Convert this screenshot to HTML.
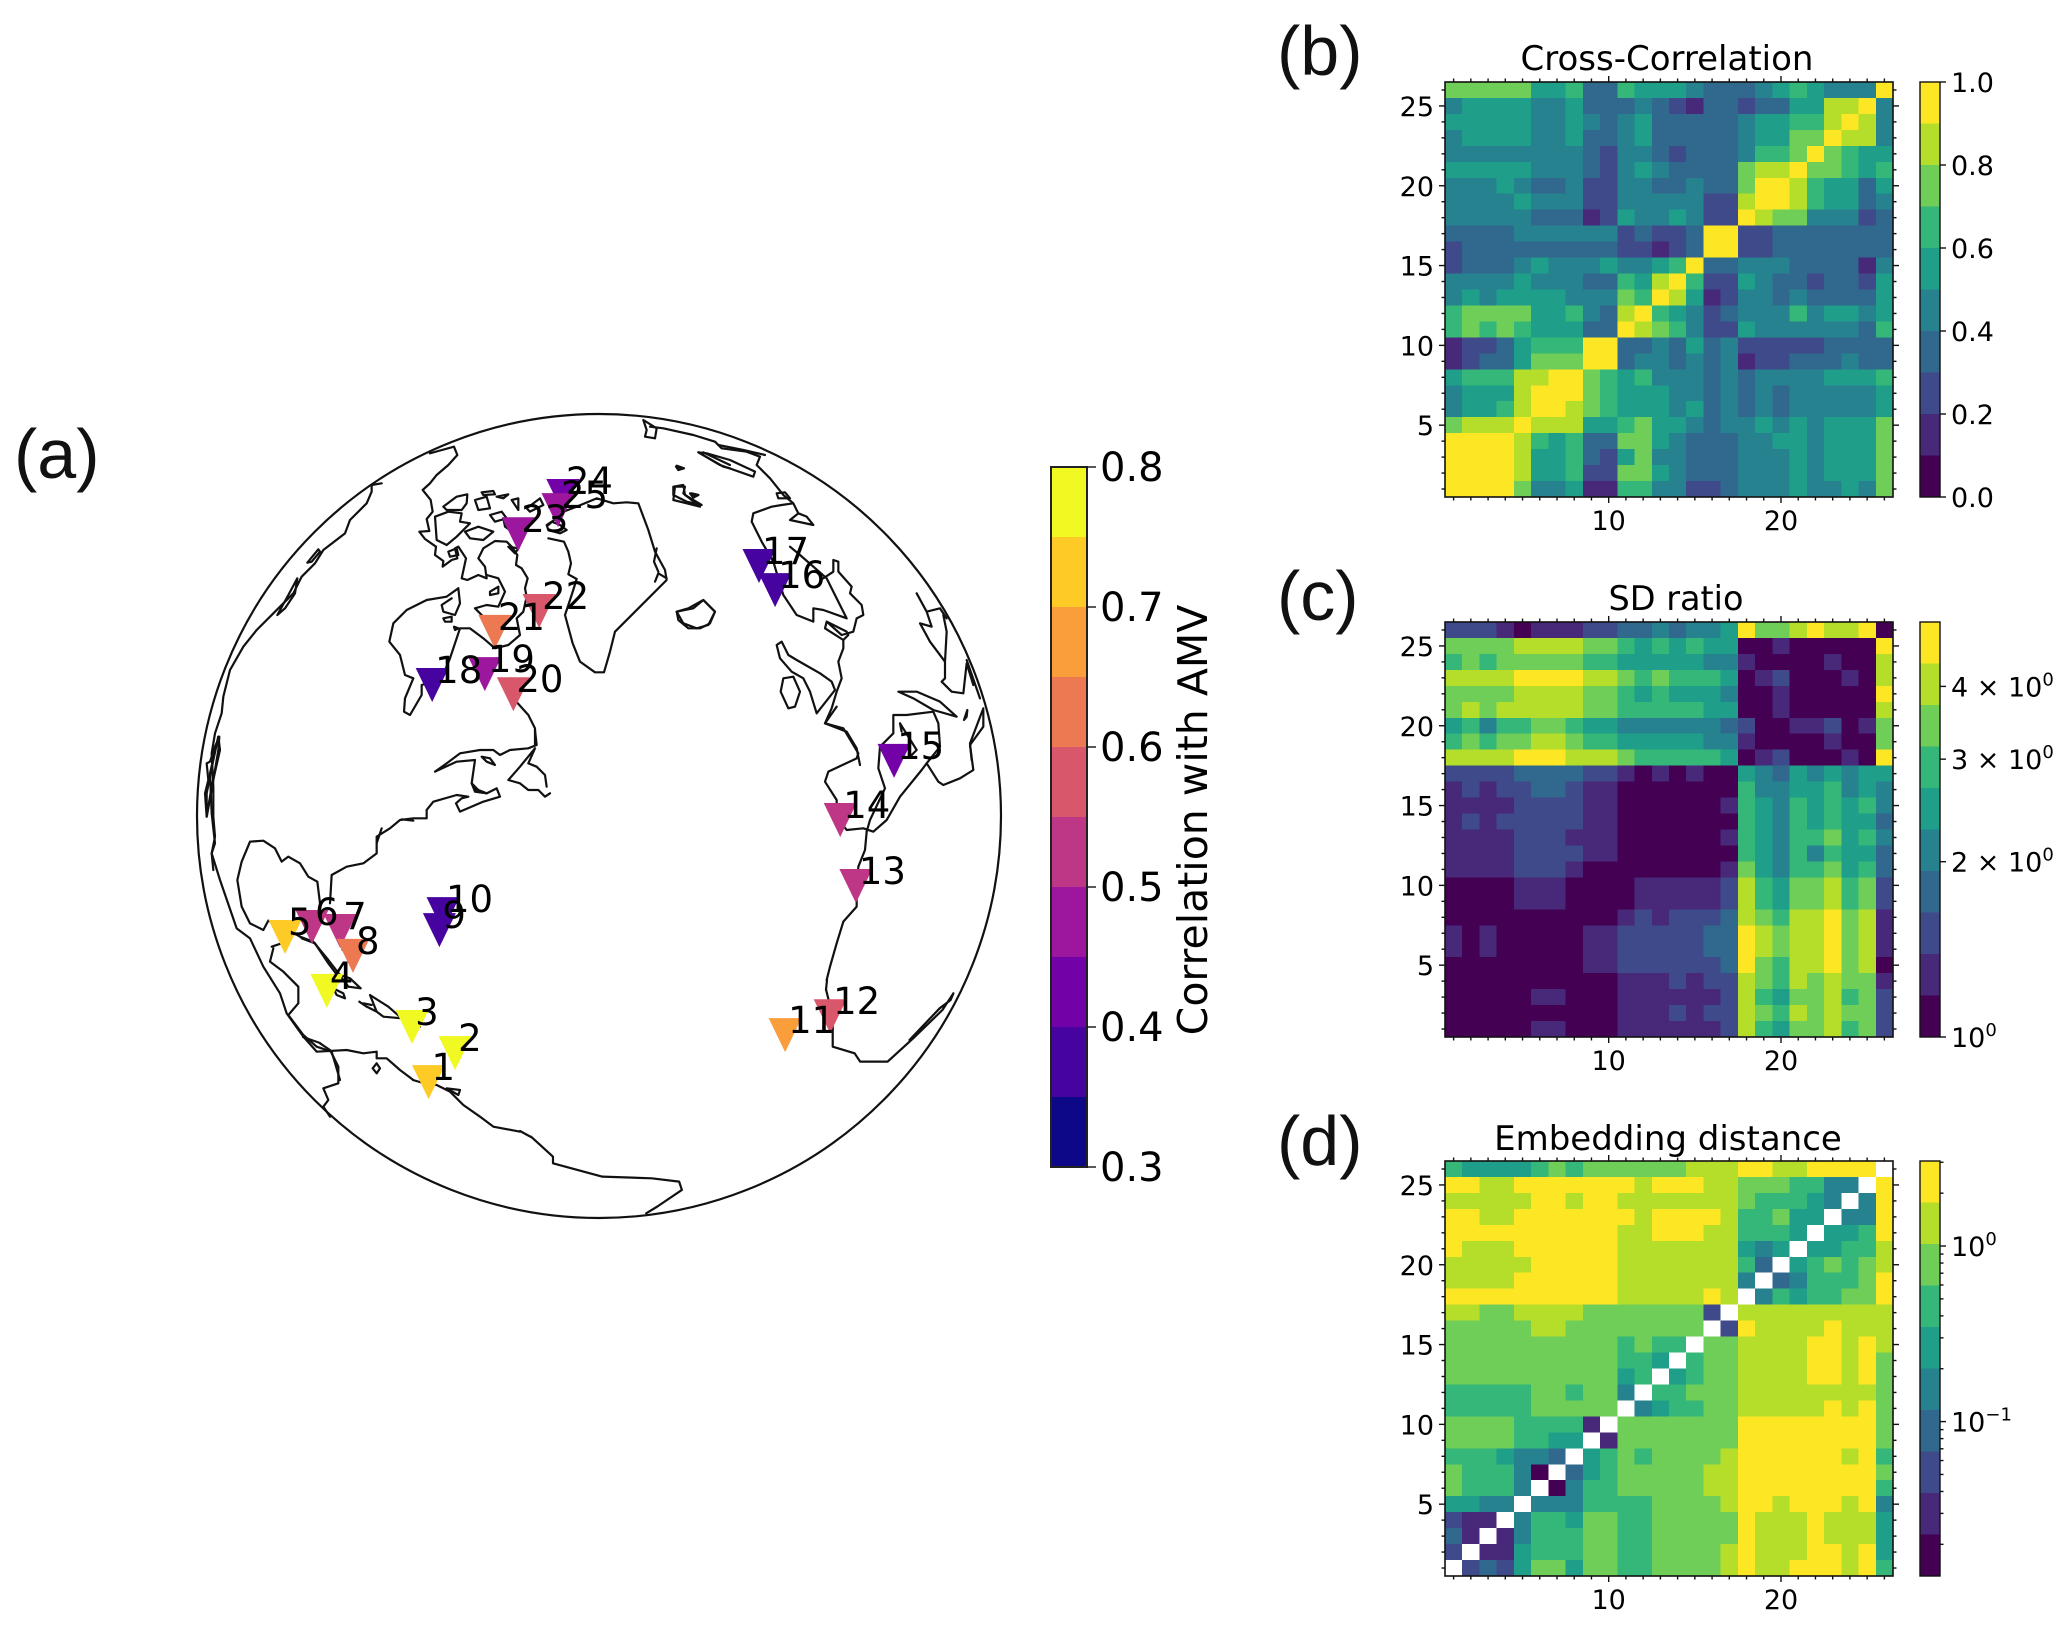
<!DOCTYPE html>
<html lang="en">
<head>
<meta charset="utf-8">
<title>AMV correlation map and station similarity matrices</title>
<style>
html,body{margin:0;padding:0;background:#fff}
svg{display:block}
text{font-family:"DejaVu Sans","Liberation Sans",sans-serif;fill:#000}
.letter{font-family:"Liberation Sans",sans-serif;font-size:70px;fill:#111}
.coast path{fill:none;stroke:#111;stroke-width:2.2;stroke-linejoin:round;stroke-linecap:round;vector-effect:non-scaling-stroke}
</style>
</head>
<body>
<svg id="figure" xmlns="http://www.w3.org/2000/svg" width="2067" height="1628" viewBox="0 0 2067 1628">
<rect width="2067" height="1628" fill="#fff"/>
<text class="letter" x="14" y="478">(a)</text>
<text class="letter" x="1277" y="75">(b)</text>
<text class="letter" x="1277" y="620">(c)</text>
<text class="letter" x="1277" y="1165">(d)</text>
<text x="1667" y="70" font-size="34" text-anchor="middle">Cross-Correlation</text>
<text x="1676" y="610" font-size="33.5" text-anchor="middle">SD ratio</text>
<text x="1668" y="1150" font-size="34" text-anchor="middle">Embedding distance</text>
<g class="coast">
<!-- Arctic Canada, Greenland, Hudson region -->
<g transform="translate(380,415) scale(0.33333)">
<path d="M150,115 L175,108 L222,95 L232,120 L205,150 L170,180 L150,205 L128,225 L152,255 L158,290 L140,312 L148,348 L118,350 L135,372 L168,395 L165,420 L190,438 L188,455 L215,435 L232,430 L225,400 L235,395 L258,430 L245,490 L262,495 L295,480 L320,490 L315,455 L295,430 L310,400 L345,378 L380,380 L395,395 L412,420 L408,450 L425,460 L443,490 L435,520 L440,545"/>
<path d="M190,275 L230,245 L262,238 L260,265 L245,285 L200,285 Z M165,305 L205,290 L245,295 L240,320 L270,325 L230,365 L200,390 L170,375 Z M305,232 L340,228 L345,238 L310,240 Z M350,245 L385,238 L370,250 Z M285,255 L320,245 L330,280 L295,285 Z M395,255 L415,250 L415,285 Z M330,300 L365,290 L380,310 L345,320 Z M440,280 L480,250 L490,270 L450,290 Z M255,350 L295,335 L340,350 L310,375 L270,370 Z M370,310 L420,320 L440,340 L410,360 L375,335 Z M500,330 L515,320 L540,330 L560,345 L540,355 L505,345 Z M205,410 L230,400 L235,420 L210,425 Z M385,395 L415,400 L405,415 Z"/>
<path d="M505,370 L552,380 L565,410 L573,445 L565,478 L590,492 L575,540 L555,600 L578,685 L600,740 L645,772 L672,772 L690,710 L705,650 L780,575 L860,495 L855,465 L825,410 L805,345 L775,265 L740,262 L700,265 L650,250 L590,275 L550,290 L505,330 M825,500 L835,475 L860,490 M830,400 L822,440 L835,470"/>
<path d="M235,520 L200,545 L140,555 L80,585 L40,625 L28,680 L60,720 L75,780 L100,790 L75,850 L72,890 L90,900 L125,840 L125,810 L185,790 L210,730 L240,640 L270,640 L310,670 L345,700 L385,690 L420,660 L410,610 L430,590 L440,545"/>
<path d="M235,520 L240,565 L225,600 L190,590 L185,570 L215,550 M285,580 L320,570 L355,575 L375,530 L355,490 L320,480 M285,580 L310,605 L345,680 M330,530 L355,515 L355,535 L330,540 Z M190,610 L215,605 L215,620 L195,620 Z M222,635 L235,640 L225,645 Z"/>
<path d="M395,790 L400,850 L445,900 L465,940 L465,990"/>
<path d="M790,15 L830,40 L825,70 L795,65 L800,45 Z M880,215 L910,210 L915,240 L965,270 L920,260 L880,240 Z M930,235 L955,240 L940,248 Z M890,152 L912,160 L895,165 Z M955,112 L1030,155 L1050,160 M970,112 L1050,150"/>
<path d="M890,590 L925,580 L970,555 L1005,590 L985,630 L950,640 L910,625 Z"/>
</g>
<!-- Europe -->
<g transform="translate(650,415) scale(0.33333)">
<path d="M0,35 L40,40 L130,60 L195,80 L215,100 L290,110 L330,125 L320,150 L360,190 L400,240 L430,265 L395,270 L365,275 L310,295 L305,320 L335,380 L370,440 L400,540 L440,600 L490,620 L490,580 L520,585 L590,610 L560,550 L530,490 L450,420 L420,395 M430,265 L445,295 L470,305 L490,330 L420,315 L445,295"/>
<path d="M380,235 L405,232 L420,250 L385,250 Z M550,435 L565,440 L565,470 L605,515 L600,535 L635,570 L640,600 L620,610 L610,650 L575,660 L530,620 L525,640 L580,675 L595,660 M530,620 L590,650 M520,490 L550,470 L550,435"/>
<path d="M580,675 L580,700 L565,740 L575,790 L560,830 L545,880 L525,925 L590,950 L620,1000 L630,1050"/>
<path d="M380,690 L395,680 L415,720 L440,735 L510,775 L545,800 L555,825 L500,895 L480,830 L460,790 L425,770 L390,730 Z M400,790 L430,785 L450,830 L435,875 L415,880 L392,830 Z"/>
<path d="M145,112 L210,150 L310,185 L315,170 L240,135 L170,115 Z M205,90 L280,105 L345,120 M78,155 L100,160 L85,165 Z M75,215 L105,215 L100,235 L150,275 L110,265 L70,255 Z M125,235 L145,240 L130,245 Z"/>
<path d="M80,590 L130,580 L160,555 L195,590 L180,625 L150,640 L115,640 L85,615 Z"/>
<path d="M800,535 L830,590 L870,580 L890,610 M830,590 L845,635 L810,625 L840,680 L885,740 L890,650 L880,600 M885,740 L885,790 L875,800 L905,830 L940,835 L950,745 L970,810 M950,735 L990,850"/>
<path d="M745,830 L790,850 L850,885 L920,905 L870,860 L800,830 Z M952,885 L942,915 L950,905 Z M1000,880 L960,985 L965,1035"/>
</g>
<!-- Iberia, Mediterranean, West Africa -->
<g transform="translate(730,690) scale(0.33333)">
<path d="M320,50 L285,100 L340,115 L385,190 L380,205 L295,245 L285,275 L320,330 L320,380 L350,420 L400,415 L430,425 L470,390 L510,320 L575,240 L590,220 L625,275 L640,285 L690,265 L730,240 L720,165 L760,110 L760,60"/>
<path d="M410,425 L405,480 L385,530 L380,600 L380,650 L340,695 L320,760 L300,830 L290,870"/>
<path d="M490,75 L490,130 L450,170 L445,235 L465,295 L420,390 L410,425 M490,75 L530,75 L610,65 L625,100 L630,170 L590,220 M510,100 L560,180 L540,200 M510,100 L515,125"/>
</g>
<!-- North America east coast and Gulf -->
<g transform="translate(200,730) scale(0.33333)">
<path d="M1005,0 L1010,45 L985,55 L930,60 L900,75 L880,60 L840,60 L780,70 L740,100 L705,125 L770,95 L825,90 L815,160 L825,185 L860,190 L890,175 L900,200 L850,215 L780,245 L768,220 L785,205 L805,200 L770,195 L700,215 L680,240 L680,265 L640,265 L600,270 L570,295 L530,320 L530,370 L490,400 L440,410 L395,435 L390,520"/>
<path d="M1005,55 L960,110 L925,150 L960,160 L985,180 L1015,180 L1035,200 L1050,190 M1005,55 L985,100 L1010,110 L1035,135 L1040,170 M845,80 L870,85 L885,105 L860,95 Z M815,160 L835,180 L860,190 L830,185 Z M545,295 L530,340 M605,268 L640,272"/>
<path d="M150,335 L190,332 L225,355 L245,395 L265,380 L300,400 L325,440 L352,455 L360,520 L355,570 M150,335 L125,395 L112,450 L125,530 L150,580 L190,600 L205,572 L250,590 L300,620 L340,635 L385,690 L420,735 L450,745 L482,775 L445,770 L415,730"/>
<path d="M305,625 L345,640 L385,700 L415,740 M215,650 L245,640 M210,695 L220,655 M210,695 L250,725 L295,770 L295,820 L265,855 L310,915 L350,950 L395,965 L420,1050"/>
<path d="M55,20 L30,130 L35,250 L45,340 L35,370 L60,450 L110,595 L150,625 L190,710 L240,790 L260,850 L310,920 L350,965 L440,960 L490,970 L530,965 L530,985 L560,985 L600,1020 L640,1050"/>
<path d="M55,20 L40,90 L20,190 L20,260 L35,170 L60,60 Z"/>
<path d="M400,775 L430,790 L435,805 L410,795 Z M478,815 L500,830 L530,845 L510,795 L565,830 L605,865 L550,860 L530,845 M630,880 L660,890 L640,880 Z M420,630 L430,635 L428,660 Z"/>
</g>
<!-- South America north coast -->
<g transform="translate(220,1000) scale(0.33333)">
<path d="M430,10 L455,15 M610,250 L650,255 L690,275 L730,315 L780,350 L820,380 L900,395 M300,130 L330,150 L355,200 L355,250 L310,265 L325,300 L310,320 L330,350"/>
<path d="M470,190 L480,205 L470,220 L458,205 Z M680,265 L720,270 L715,285 Z"/>
</g>
<g transform="translate(180,800) scale(0.5485,0.3333)">
<path d="M640,1010 L680,1070 L680,1090 L770,1130 L860,1135 L910,1145 L915,1170 L870,1220 L850,1240"/>
<path d="M1178,570 L1190,650 L1190,740 L1230,760 L1240,785 L1290,785 L1340,710 L1390,630 L1410,580 L1405,600 L1385,625 L1330,720"/>
</g>
<!-- Joins between traced coast segments -->
<path d="M413,1080 L423,1083 M303,1037 L320,1043 M520,1131 L531,1137 M827,980 L826,990"/>
<!-- Alaska and the western limb -->
<g transform="translate(190,470) scale(0.33333)">
<path d="M575,40 L545,45 L545,65 L530,100 L480,150 L465,190 L400,240 L375,280 L335,320 L310,370 L270,410 L200,480 L160,530 L120,600 L100,680 L95,730 L75,790 L65,850 L70,950 L70,1040 L75,1100 L65,1150 L70,1200"/>
<path d="M385,238 L352,278 L365,275 L390,245 Z M322,325 L295,375 L262,435 L285,415 L315,370 Z M88,800 L75,830 L60,875 L50,880 L55,930 L45,970 L50,1040 L65,960 L85,840 Z"/>
</g>
</g>
<circle cx="599" cy="816" r="402" fill="none" stroke="#111" stroke-width="2.2"/>
<text x="1207" y="820" font-size="41" text-anchor="middle" transform="rotate(-90 1207 820)">Correlation with AMV</text>
<g id="layer-a"></g>
<g id="layer-b"></g>
<g id="layer-c"></g>
<g id="layer-d"></g>
</svg>
<script>
// ---- Panel (a) data ----
const stationLabels = ['1','2','3','4','5','6','7','8','9','10','11','12','13','14','15','16','17','18','19','20','21','22','23','24','25'];
// orthographic map coordinates, in Earth radii
const stationEasting = [-0.424,-0.358,-0.465,-0.677,-0.781,-0.714,-0.644,-0.612,-0.397,-0.388,0.463,0.575,0.639,0.600,0.734,0.438,0.398,-0.415,-0.284,-0.213,-0.259,-0.149,-0.201,-0.090,-0.102];
const stationNorthing = [-0.662,-0.590,-0.525,-0.435,-0.301,-0.276,-0.286,-0.348,-0.284,-0.244,-0.545,-0.498,-0.174,-0.010,0.137,0.562,0.622,0.326,0.353,0.303,0.458,0.510,0.701,0.796,0.761];
const stationCorrelation = [0.72,0.77,0.77,0.77,0.72,0.52,0.52,0.62,0.37,0.37,0.67,0.57,0.52,0.52,0.42,0.37,0.37,0.37,0.47,0.57,0.62,0.57,0.47,0.42,0.47];
const correlationTicks = [0.3,0.4,0.5,0.6,0.7,0.8];
const correlationTickLabels = ['0.3','0.4','0.5','0.6','0.7','0.8'];
const correlationBandEdges = [0.3,0.35,0.4,0.45,0.5,0.55,0.6,0.65,0.7,0.75,0.8];
const plasmaBands = ['#0d0887','#47039f','#7301a8','#9c179e','#bd3786','#d8576b','#ed7953','#fa9e3b','#fdca26','#f0f921'];

// ---- Shared matrix axes ----
const viridisBands = ['#440154','#482878','#3e4a89','#31688e','#26828e','#1f9e89','#35b779','#6ece58','#b5de2b','#fde725'];
const xTickValues = [10,20];
const yTickValues = [5,10,15,20,25];
const matrixSize = 26;
const _ = null;

// ---- Panel (b): colour band of each cell, top row (station 26) first ----
const crossCorrelationBands = [
[7,7,7,7,7,5,5,6,3,3,6,5,5,5,4,3,3,3,4,5,6,5,4,4,4,9],
[4,5,5,5,5,4,4,5,3,3,3,4,3,2,1,3,3,2,3,3,5,5,8,8,9,4],
[5,5,5,5,5,4,4,5,4,3,4,5,3,3,3,3,3,4,5,5,6,6,8,9,8,4],
[4,5,5,5,5,4,4,5,3,3,4,5,3,3,3,3,3,4,5,5,7,7,9,8,8,4],
[4,4,4,4,4,4,4,4,3,2,4,4,3,2,3,3,3,4,6,6,7,9,7,6,5,5],
[5,5,5,5,5,4,4,4,3,2,4,5,4,3,3,3,3,7,8,8,9,7,7,6,5,6],
[4,4,4,5,4,3,3,4,2,2,4,4,3,3,4,3,3,7,9,9,8,6,5,5,3,5],
[4,4,4,4,5,4,4,4,2,2,4,4,4,4,4,2,2,8,9,9,8,6,5,5,3,4],
[4,4,4,4,4,3,3,3,1,2,5,4,4,5,4,2,2,9,8,7,7,4,4,4,2,3],
[3,3,3,3,4,4,4,4,4,4,2,3,2,2,3,9,9,2,2,3,3,3,3,3,3,3],
[2,3,3,3,3,3,3,3,3,3,2,2,1,2,3,9,9,2,2,3,3,3,3,3,3,3],
[2,3,3,3,4,5,4,4,4,5,4,4,5,6,9,3,3,4,4,4,3,3,3,3,1,4],
[4,4,4,4,5,4,4,4,3,3,6,5,8,9,6,2,2,5,4,3,3,2,3,3,2,5],
[4,5,4,5,5,5,5,4,4,4,7,6,9,8,5,1,2,4,4,3,4,3,3,3,3,5],
[6,7,7,7,7,5,5,6,4,3,8,9,6,5,4,2,3,4,4,4,6,4,5,5,4,5],
[6,7,6,7,6,5,5,5,3,3,9,8,7,6,4,2,2,5,4,4,4,4,4,4,3,6],
[1,2,2,3,5,6,6,6,9,9,3,3,4,3,5,3,4,2,2,2,2,2,3,3,3,3],
[1,2,3,3,5,7,7,7,9,9,3,4,4,3,4,3,4,1,2,2,3,3,3,4,3,3],
[5,6,6,6,8,8,9,9,7,6,5,6,4,4,4,3,4,3,4,4,4,4,5,5,5,6],
[4,5,5,5,8,9,9,9,7,6,5,5,5,4,4,3,4,3,4,3,4,4,4,4,4,5],
[4,5,5,6,8,9,9,8,7,6,5,5,5,4,5,3,4,3,4,3,4,4,4,4,4,5],
[7,8,8,8,9,8,8,8,5,5,6,7,5,5,4,3,4,4,5,4,5,4,5,5,5,7],
[9,9,9,9,8,6,5,6,3,3,7,7,5,4,3,3,3,4,4,5,5,4,5,5,5,7],
[9,9,9,9,8,5,5,6,3,2,5,7,4,4,3,3,3,4,4,4,5,4,5,5,5,7],
[9,9,9,9,8,5,5,6,2,2,7,7,5,4,3,3,3,4,4,4,5,4,5,5,5,7],
[9,9,9,9,7,4,4,5,1,1,6,6,4,4,2,2,3,4,4,4,5,4,4,5,4,7]
];
const crossCorrelationTicks = [0,0.2,0.4,0.6,0.8,1];
const crossCorrelationTickLabels = ['0.0','0.2','0.4','0.6','0.8','1.0'];

// ---- Panel (c) ----
const sdRatioBands = [
[2,2,2,1,0,1,1,1,2,2,3,3,4,3,4,4,5,9,7,7,8,9,8,8,9,0],
[7,7,7,7,8,8,8,8,7,7,6,5,6,5,6,5,5,0,0,1,0,0,0,0,0,9],
[6,7,6,7,7,7,7,7,6,6,5,5,5,5,5,4,4,1,0,0,0,0,1,0,0,8],
[8,8,8,8,9,9,9,9,8,8,7,6,7,6,6,6,5,0,1,2,0,0,0,1,0,8],
[7,7,7,7,8,8,8,8,7,7,6,5,6,5,5,5,4,0,0,1,0,0,0,0,0,9],
[7,8,7,8,8,8,8,8,7,7,6,6,6,6,6,5,5,0,0,1,0,0,0,0,0,8],
[5,6,4,6,6,7,7,6,5,5,4,4,4,4,4,4,3,2,0,0,1,1,2,0,1,7],
[6,7,6,7,7,8,8,7,6,6,5,5,5,5,5,4,4,1,0,0,0,0,1,0,0,7],
[8,8,8,8,9,9,9,8,8,8,7,6,6,6,6,6,5,0,1,2,0,0,0,1,0,9],
[2,2,2,2,3,3,3,3,2,2,1,0,1,0,1,0,0,5,4,3,5,4,5,4,5,5],
[1,2,1,2,2,3,3,2,1,1,0,0,0,0,0,0,0,6,4,4,5,5,6,4,5,4],
[1,1,1,1,2,2,2,2,1,1,0,0,0,0,0,0,1,6,5,4,6,5,6,5,6,4],
[1,2,1,2,2,2,2,2,1,1,0,0,0,0,0,0,0,6,5,4,6,5,6,5,5,3],
[1,1,1,1,2,2,2,1,1,1,0,0,0,0,0,0,1,6,5,4,6,6,7,5,6,4],
[1,1,1,1,2,2,2,2,1,1,0,0,0,0,0,0,0,6,5,4,6,4,6,5,5,3],
[1,1,1,1,2,2,2,1,0,0,0,0,0,0,0,0,1,7,5,4,6,6,7,5,6,3],
[0,0,0,0,1,1,1,0,0,0,0,1,1,1,1,1,2,8,6,5,7,7,8,6,7,2],
[0,0,0,0,1,1,1,0,0,0,0,1,1,1,1,1,2,8,6,5,7,7,8,6,7,2],
[0,0,0,0,0,0,0,0,0,0,1,2,1,2,2,2,3,8,7,6,8,8,9,7,8,1],
[1,0,1,0,0,0,0,0,1,1,2,2,2,2,2,3,3,9,8,7,8,8,9,7,8,1],
[1,0,1,0,0,0,0,0,1,1,2,2,2,2,2,3,3,9,8,7,8,8,9,7,8,1],
[0,0,0,0,0,0,0,0,1,1,2,2,2,2,2,2,3,9,7,6,8,8,9,7,8,0],
[0,0,0,0,0,0,0,0,0,0,1,1,1,2,1,2,2,8,7,6,8,7,8,7,7,1],
[0,0,0,0,0,1,1,0,0,0,1,1,1,1,1,1,2,8,6,5,7,7,8,6,7,2],
[0,0,0,0,0,0,0,0,0,0,1,1,1,2,1,2,2,8,7,6,8,7,8,7,7,2],
[0,0,0,0,0,1,1,0,0,0,1,1,1,1,1,1,2,8,6,5,7,7,8,6,7,2]
];
const sdRatioTicks = [1,2,3,4];
const sdRatioTickBases = ['10','2 × 10','3 × 10','4 × 10'];
const sdRatioTickPowers = ['0','0','0','0'];

// ---- Panel (d): null cells are the blank diagonal ----
const embeddingDistanceBands = [
[6,5,5,5,5,6,7,6,7,7,7,7,7,7,8,8,8,9,9,8,8,9,9,9,9,_],
[9,9,8,8,9,9,9,9,9,9,9,8,9,9,9,8,8,7,7,7,6,6,4,4,_,9],
[8,8,8,8,8,9,9,8,9,9,8,8,8,8,8,8,8,7,6,6,6,5,4,_,4,9],
[9,9,8,8,9,9,9,9,9,9,9,8,9,9,9,9,8,6,6,7,5,5,_,4,4,9],
[9,9,9,9,9,9,9,9,9,9,8,8,9,9,9,8,8,6,6,6,5,_,5,5,6,9],
[9,8,8,8,9,9,9,9,9,9,8,8,8,8,8,8,8,5,4,5,_,5,5,6,6,8],
[8,8,8,8,8,9,9,9,9,9,8,8,8,8,8,8,8,6,3,_,5,6,7,6,7,8],
[8,8,8,8,9,9,9,9,9,9,8,8,8,8,8,8,8,4,_,3,4,6,6,6,7,9],
[9,9,9,9,9,9,9,9,9,9,8,8,8,8,8,9,8,_,4,6,5,6,6,7,7,9],
[8,8,7,7,8,8,8,8,7,7,7,7,7,7,7,2,_,8,8,8,8,8,8,8,8,8],
[7,7,7,7,7,8,8,7,7,7,7,7,7,7,7,_,2,9,8,8,8,8,9,8,8,8],
[7,7,7,7,7,7,7,7,7,7,6,7,6,6,_,7,7,8,8,8,8,9,9,8,9,8],
[7,7,7,7,7,7,7,7,7,7,6,6,5,_,6,7,7,8,8,8,8,9,9,8,9,7],
[7,7,7,7,7,7,7,7,7,7,5,6,_,5,6,7,7,8,8,8,8,9,9,8,9,7],
[6,6,6,6,6,7,7,6,7,7,4,_,6,6,7,7,7,8,8,8,8,8,8,8,8,7],
[6,6,6,6,6,7,7,7,7,7,_,4,5,6,6,7,7,8,8,8,8,8,9,8,9,7],
[7,7,7,7,6,6,6,6,1,_,7,7,7,7,7,7,7,9,9,9,9,9,9,9,9,7],
[7,7,7,7,6,6,5,5,_,1,7,7,7,7,7,7,7,9,9,9,9,9,9,9,9,7],
[6,6,6,5,4,4,3,_,5,6,7,6,7,7,7,7,8,9,9,9,9,9,9,8,9,6],
[7,6,6,6,4,0,_,3,5,6,7,7,7,7,7,8,8,9,9,9,9,9,9,9,9,7],
[7,6,6,6,4,_,0,4,6,6,7,7,7,7,7,8,8,9,9,9,9,9,9,9,9,6],
[5,5,4,4,_,4,4,4,6,6,6,6,7,7,7,7,8,9,9,8,9,9,9,8,9,4],
[2,1,1,_,4,6,6,5,7,7,6,6,7,7,7,7,7,9,8,8,8,9,8,8,8,5],
[3,1,_,1,4,6,6,6,7,7,6,6,7,7,7,7,7,9,8,8,8,9,8,8,8,5],
[2,_,1,1,5,6,6,6,7,7,6,6,7,7,7,7,8,9,8,8,8,9,9,8,9,5],
[_,2,3,2,5,7,7,5,7,7,6,6,7,7,7,7,8,9,8,8,9,9,9,8,9,6]
];
const embeddingDistanceTicks = [0.1,1];
const embeddingDistanceTickBases = ['10','10'];
const embeddingDistanceTickPowers = ['−1','0'];
const embeddingDistanceMinorTicks = [0.02,0.03,0.04,0.05,0.06,0.07,0.08,0.09,0.2,0.3,0.4,0.5,0.6,0.7,0.8,0.9,2,3];

// ---- Drawing ----
const SVG_NS = 'http://www.w3.org/2000/svg';
function make(parent, tag, attrs) {
  const el = document.createElementNS(SVG_NS, tag);
  for (const k in attrs) el.setAttribute(k, attrs[k]);
  parent.appendChild(el);
  return el;
}
function tickLine(parent, x1, y1, x2, y2, name) {
  const el = make(parent, 'line', {x1, y1, x2, y2, stroke: '#111', 'stroke-width': 1.4});
  
  
}

// Panel (a)
const mapX = e => 599 + 402 * e;
const mapY = n => 816 - 402 * n;
const corrBarY = v => 1167 - (v - 0.3) / 0.5 * 700;
function plasmaColor(v) {
  let i = Math.floor((v - 0.3) / 0.05);
  i = Math.max(0, Math.min(9, i));
  return plasmaBands[i];
}
const layerA = document.getElementById('layer-a');
stationEasting.forEach((e, i) => {
  const cx = mapX(e), cy = mapY(stationNorthing[i]);
  const m = make(layerA, 'polygon', {
    points: `${cx-16.5},${cy-17} ${cx+16.5},${cy-17} ${cx},${cy+17}`,
    fill: plasmaColor(stationCorrelation[i])
  });
  
  
});
stationEasting.forEach((e, i) => {
  const t = make(layerA, 'text', {x: mapX(e) + 3, y: mapY(stationNorthing[i]) - 2, 'font-size': 37});
  t.textContent = stationLabels[i];
  
  
});
plasmaBands.forEach((c, i) => {
  const top = corrBarY(correlationBandEdges[i + 1]);
  const r = make(layerA, 'rect', {x: 1051, y: top, width: 36, height: corrBarY(correlationBandEdges[i]) - top, fill: c});
  
  
});
const corrFrame = make(layerA, 'rect', {x: 1051, y: corrBarY(0.8), width: 36, height: 700, fill: 'none', stroke: '#222', 'stroke-width': 2});


correlationTicks.forEach((v, i) => {
  tickLine(layerA, 1087, corrBarY(v), 1096, corrBarY(v), 'correlation-colorbar-tick');
  const t = make(layerA, 'text', {x: 1100, y: corrBarY(v) + 14, 'font-size': 40});
  t.textContent = correlationTickLabels[i];
  
  
});

// Panels (b)-(d)
function drawMatrix(layerId, top, rows, scale, ticks, bases, powers, minorTicks) {
  const layer = document.getElementById(layerId);
  const left = 1445, width = 448, height = 415, bottom = top + height;
  const xAxis = v => left + (v - 0.5) * width / matrixSize;
  const yAxis = v => bottom - (v - 0.5) * height / matrixSize;
  const barLeft = 1920, barWidth = 20;
  const barY = v => bottom - scale(v) * height;
  rows.forEach((row, r) => {
    const station = matrixSize - r;
    row.forEach((band, c) => {
      if (band === null) return;
      const col = c + 1;
      const cell = make(layer, 'rect', {
        x: xAxis(col - 0.5), y: yAxis(station + 0.5),
        width: xAxis(col + 0.5) - xAxis(col - 0.5),
        height: yAxis(station - 0.5) - yAxis(station + 0.5),
        fill: viridisBands[band], 'shape-rendering': 'crispEdges'
      });
      
      
    });
  });
  const frame = make(layer, 'rect', {x: left, y: top, width, height, fill: 'none', stroke: '#111', 'stroke-width': 1.6});
  
  
  for (let v = 1; v <= matrixSize; v++) {
    const xMajor = xTickValues.includes(v), yMajor = yTickValues.includes(v);
    const xl = xMajor ? 6 : 3.5, yl = yMajor ? 6 : 3.5;
    tickLine(layer, xAxis(v), bottom, xAxis(v), bottom + xl, 'x-tick');
    tickLine(layer, xAxis(v), top, xAxis(v), top - xl, 'x-tick-top');
    tickLine(layer, left, yAxis(v), left - yl, yAxis(v), 'y-tick');
    tickLine(layer, left + width, yAxis(v), left + width + yl, yAxis(v), 'y-tick-right');
  }
  xTickValues.forEach(v => {
    const t = make(layer, 'text', {x: xAxis(v), y: bottom + 33, 'font-size': 27, 'text-anchor': 'middle'});
    t.textContent = String(v);
    
    
  });
  yTickValues.forEach(v => {
    const t = make(layer, 'text', {x: 1434, y: yAxis(v) + 10, 'font-size': 27, 'text-anchor': 'end'});
    t.textContent = String(v);
    
    
  });
  viridisBands.forEach((c, i) => {
    const y0 = bottom - (i + 1) / 10 * height;
    const swatch = make(layer, 'rect', {x: barLeft, y: y0, width: barWidth, height: height / 10, fill: c, 'shape-rendering': 'crispEdges'});
    
    
  });
  const barFrame = make(layer, 'rect', {x: barLeft, y: top, width: barWidth, height, fill: 'none', stroke: '#111', 'stroke-width': 1.4});
  
  
  (minorTicks || []).forEach(v => tickLine(layer, barLeft + barWidth, barY(v), barLeft + barWidth + 3.5, barY(v), 'colorbar-minor-tick'));
  ticks.forEach((v, i) => {
    tickLine(layer, barLeft + barWidth, barY(v), barLeft + barWidth + 6, barY(v), 'colorbar-tick');
    const t = make(layer, 'text', {x: barLeft + barWidth + 11, y: barY(v) + 10, 'font-size': 27});
    
    
    const base = make(t, 'tspan', {});
    base.textContent = bases[i];
    if (powers) {
      const sup = make(t, 'tspan', {dy: -11, 'font-size': 18});
      sup.textContent = powers[i];
    }
  });
}
const linearUnit = v => v;
const logScale = (lo, hi) => v => (Math.log10(v) - Math.log10(lo)) / (Math.log10(hi) - Math.log10(lo));
drawMatrix('layer-b', 82, crossCorrelationBands, linearUnit, crossCorrelationTicks, crossCorrelationTickLabels, null, null);
drawMatrix('layer-c', 622, sdRatioBands, logScale(1, 5.16), sdRatioTicks, sdRatioTickBases, sdRatioTickPowers, null);
drawMatrix('layer-d', 1161, embeddingDistanceBands, logScale(0.0132, 3.05), embeddingDistanceTicks, embeddingDistanceTickBases, embeddingDistanceTickPowers, embeddingDistanceMinorTicks);
</script>
</body>
</html>
